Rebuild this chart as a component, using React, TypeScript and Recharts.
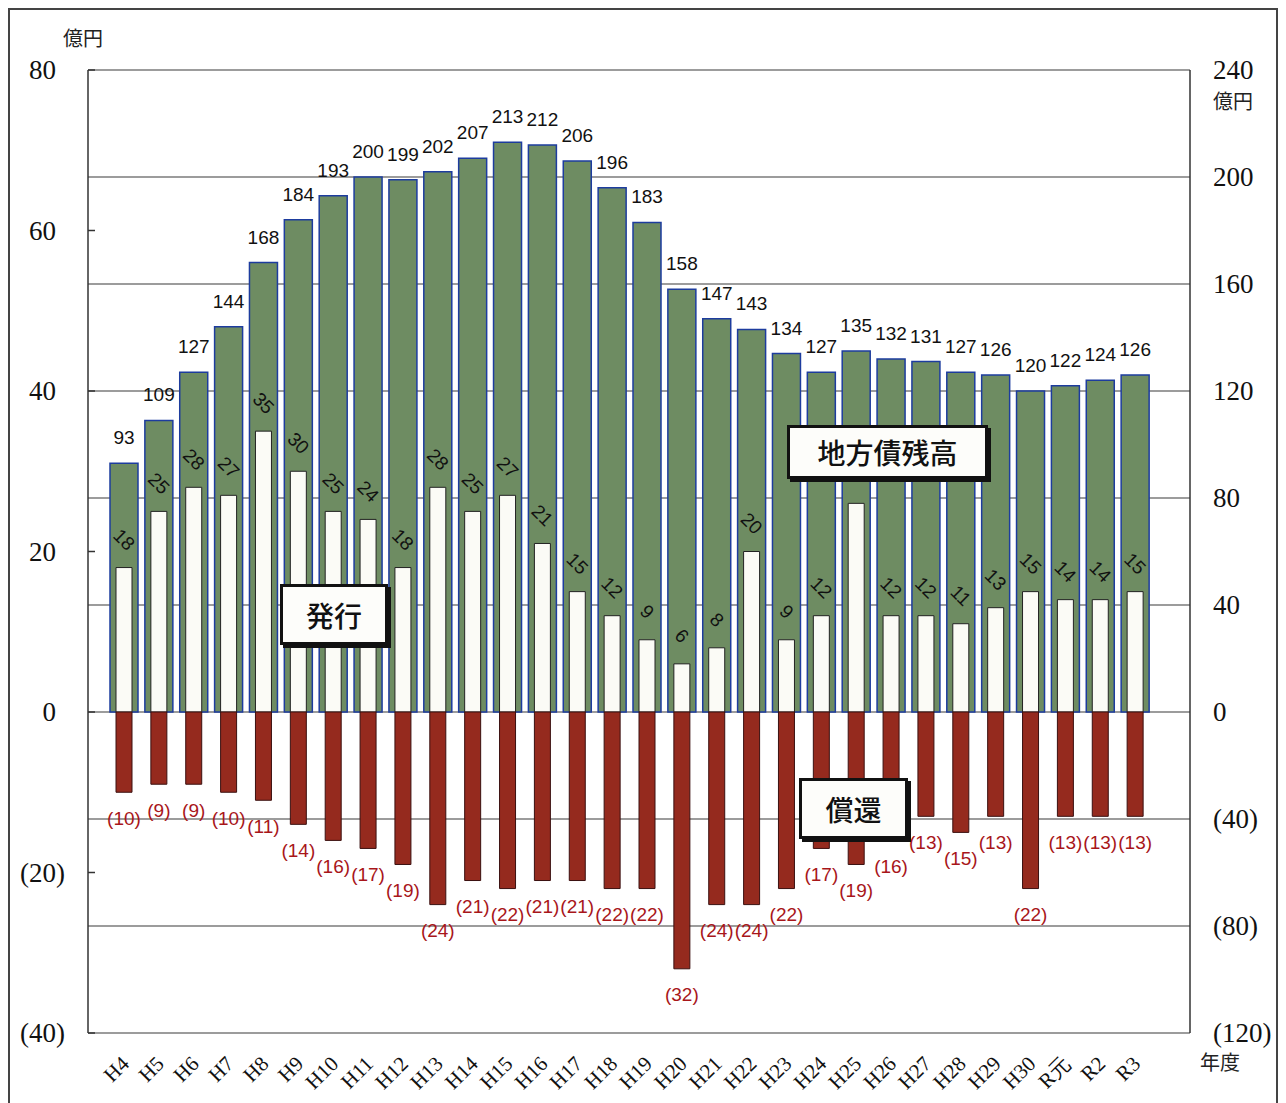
import React from 'react';
import {
  ComposedChart,
  Bar,
  XAxis,
  YAxis,
  CartesianGrid,
  LabelList
} from 'recharts';

// 年度
const years = [
  'H4', 'H5', 'H6', 'H7', 'H8', 'H9', 'H10', 'H11', 'H12', 'H13',
  'H14', 'H15', 'H16', 'H17', 'H18', 'H19', 'H20', 'H21', 'H22', 'H23',
  'H24', 'H25', 'H26', 'H27', 'H28', 'H29', 'H30', 'R元', 'R2', 'R3'
];

// 地方債残高 (right axis, 億円)
const balance = [
  93, 109, 127, 144, 168, 184, 193, 200, 199, 202,
  207, 213, 212, 206, 196, 183, 158, 147, 143, 134,
  127, 135, 132, 131, 127, 126, 120, 122, 124, 126
];

// 発行 (left axis)
const issuance = [
  18, 25, 28, 27, 35, 30, 25, 24, 18, 28,
  25, 27, 21, 15, 12, 9, 6, 8, 20, 9,
  12, 26, 12, 12, 11, 13, 15, 14, 14, 15
];

// 償還 (left axis, shown below zero)
const redemption = [
  10, 9, 9, 10, 11, 14, 16, 17, 19, 24,
  21, 22, 21, 21, 22, 22, 32, 24, 24, 22,
  17, 19, 16, 13, 15, 13, 22, 13, 13, 13
];

// label hidden under the 地方債残高 box in the original
const hiddenIssuanceLabels = ['H25'];

const leftTicks = [-40, -20, 0, 20, 40, 60, 80];
const rightTicks = [-120, -80, -40, 0, 40, 80, 120, 160, 200, 240];

const data = years.map((year, i) => ({
  year,
  balance: balance[i],
  issuance: issuance[i],
  redemption: -redemption[i]
}));

const SERIF = '"Liberation Serif", "DejaVu Serif", serif';
const SANS = '"Liberation Sans", Arial, sans-serif';
const JP = '"Noto Sans CJK JP", sans-serif';

const LeftTick = (props: any) => {
  const { x, y, payload } = props;
  const v = payload.value;
  return (
    <g>
      <line x1={x} x2={x + 7} y1={y} y2={y} stroke="#333" strokeWidth={1.5} />
      <text x={x - 32} y={y} textAnchor="end" dominantBaseline="central"
        fontFamily={SERIF} fontSize={27} fill="#111">
        {v < 0 ? `(${-v}` : `${v}`}
      </text>
      {v < 0 && (
        <text x={x - 32} y={y} textAnchor="start" dominantBaseline="central"
          fontFamily={SERIF} fontSize={27} fill="#111">)</text>
      )}
    </g>
  );
};

const RightTick = (props: any) => {
  const { x, y, payload } = props;
  const v = payload.value;
  return (
    <text x={x + 23} y={y} textAnchor="start" dominantBaseline="central"
      fontFamily={SERIF} fontSize={27} fill="#111">
      {v < 0 ? `(${-v})` : `${v}`}
    </text>
  );
};

const YearTick = (props: any) => {
  const { x, y, payload } = props;
  const ex = x + 6;
  const ey = y + 2;
  return (
    <text x={ex} y={ey} textAnchor="end" transform={`rotate(-45, ${ex}, ${ey})`}
      fontFamily={SERIF} fontSize={21} fill="#111">
      {payload.value}
    </text>
  );
};

const BalanceLabel = (props: any) => {
  const { x, y, width, height, index } = props;
  const top = Math.min(y, y + height);
  return (
    <text x={x + width / 2} y={top - 19} textAnchor="middle"
      fontFamily={SANS} fontSize={19} fill="#111">
      {balance[index]}
    </text>
  );
};

const IssuanceLabel = (props: any) => {
  const { x, y, width, height, index } = props;
  if (hiddenIssuanceLabels.includes(years[index])) return null;
  const top = Math.min(y, y + height);
  const cx = x + width / 2;
  const cy = top - 28;
  return (
    <text x={cx} y={cy} textAnchor="middle" dominantBaseline="central"
      transform={`rotate(45, ${cx}, ${cy})`}
      fontFamily={SANS} fontSize={19} fill="#111">
      {issuance[index]}
    </text>
  );
};

const RedemptionLabel = (props: any) => {
  const { x, y, width, height, index } = props;
  const bottom = Math.max(y, y + height);
  return (
    <text x={x + width / 2} y={bottom + 26} textAnchor="middle" dominantBaseline="central"
      fontFamily={SANS} fontSize={19} fill="#a8161a">
      {`(${redemption[index]})`}
    </text>
  );
};

const boxStyle: React.CSSProperties = {
  position: 'absolute',
  boxSizing: 'border-box',
  border: '3px solid #111',
  boxShadow: '3px 3px 0 #111',
  background: '#fdfdfa',
  display: 'flex',
  alignItems: 'center',
  justifyContent: 'center',
  fontFamily: JP,
  fontSize: 28,
  fontWeight: 500,
  color: '#111'
};

const unitStyle: React.CSSProperties = {
  position: 'absolute',
  fontFamily: JP,
  fontSize: 20,
  lineHeight: '20px',
  color: '#222'
};

export default function App() {
  return (
    <div style={{
      position: 'relative',
      width: 1270,
      height: 1110,
      border: '2px solid #444',
      boxSizing: 'border-box',
      background: '#fff'
    }}>
      <ComposedChart
        width={1266}
        height={1090}
        data={data}
        stackOffset="sign"
        margin={{ top: 60, right: 20, bottom: 7, left: 18 }}
      >
        <CartesianGrid yAxisId="right" vertical={false} stroke="#3a3a3a" strokeWidth={1.2} />
        <XAxis
          xAxisId="main"
          dataKey="year"
          padding={{ left: 19, right: 37 }}
          axisLine={false}
          tickLine={false}
          tickSize={0}
          tickMargin={0}
          height={60}
          interval={0}
          tick={<YearTick />}
        />
        <XAxis xAxisId="inner" dataKey="year" padding={{ left: 19, right: 37 }} hide />
        <YAxis
          yAxisId="left"
          orientation="left"
          domain={[-40, 80]}
          ticks={leftTicks}
          width={60}
          tickLine={false}
          tickSize={0}
          tickMargin={0}
          axisLine={{ stroke: '#333', strokeWidth: 1.5 }}
          tick={<LeftTick />}
          interval={0}
        />
        <YAxis
          yAxisId="right"
          orientation="right"
          domain={[-120, 240]}
          ticks={rightTicks}
          width={66}
          tickLine={false}
          tickSize={0}
          tickMargin={0}
          axisLine={{ stroke: '#333', strokeWidth: 1.5 }}
          tick={<RightTick />}
          interval={0}
        />
        <Bar
          xAxisId="main"
          yAxisId="right"
          dataKey="balance"
          barSize={28}
          fill="#6e8c62"
          stroke="#1d3c9e"
          strokeWidth={1.5}
          isAnimationActive={false}
        >
          <LabelList content={<BalanceLabel />} />
        </Bar>
        <Bar
          xAxisId="inner"
          yAxisId="left"
          dataKey="issuance"
          stackId="flow"
          barSize={16}
          fill="#fbfbf6"
          stroke="#222"
          strokeWidth={1}
          isAnimationActive={false}
        >
          <LabelList content={<IssuanceLabel />} />
        </Bar>
        <Bar
          xAxisId="inner"
          yAxisId="left"
          dataKey="redemption"
          stackId="flow"
          barSize={16}
          fill="#952a1e"
          stroke="#3a1010"
          strokeWidth={1}
          isAnimationActive={false}
        >
          <LabelList content={<RedemptionLabel />} />
        </Bar>
      </ComposedChart>

      <div style={{ ...unitStyle, left: 53, top: 18 }}>億円</div>
      <div style={{ ...unitStyle, left: 1203, top: 81 }}>億円</div>
      <div style={{ ...unitStyle, left: 1190, top: 1042 }}>年度</div>

      <div style={{ ...boxStyle, left: 777, top: 415, width: 201, height: 54 }}>地方債残高</div>
      <div style={{ ...boxStyle, left: 270, top: 574, width: 108, height: 61 }}>発行</div>
      <div style={{ ...boxStyle, left: 789, top: 768, width: 109, height: 61 }}>償還</div>
    </div>
  );
}
